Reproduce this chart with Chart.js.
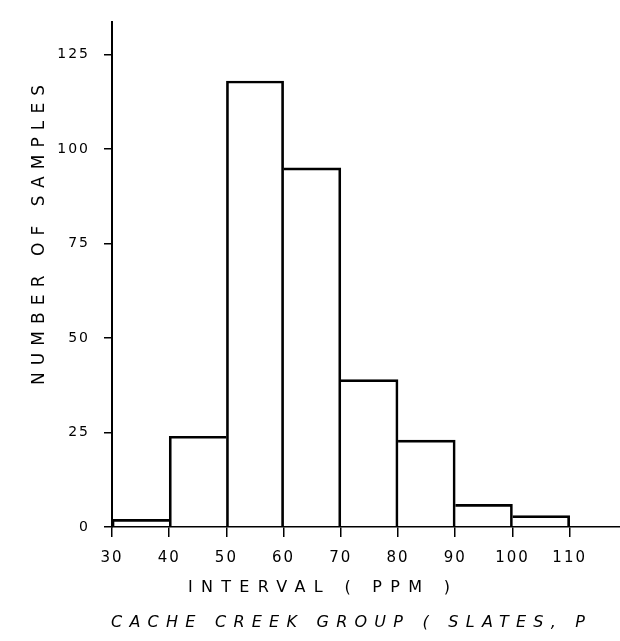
<!DOCTYPE html>
<html>
<head>
<meta charset="utf-8">
<script src="https://cdn.jsdelivr.net/npm/chart.js@4"></script>
<style>
  html, body { margin: 0; padding: 0; background: #fff; }
  #wrap { width: 620px; height: 641px; position: relative; }
</style>
</head>
<body>
<div id="wrap"><canvas id="chart"></canvas></div>
<script>
// interval centres (ppm) and counts
const binCentres = [35, 45, 55, 65, 75, 85, 95, 105];
const sampleCounts = [2, 24, 118, 95, 39, 23, 6, 3];
const xTicks = [30, 40, 50, 60, 70, 80, 90, 100, 110];
const yTicks = [0, 25, 50, 75, 100, 125];

const yTitle = 'NUMBER OF SAMPLES';
const xTitle = 'INTERVAL ( PPM )';
const caption = 'CACHE CREEK GROUP ( SLATES, P';

const FONT = "'DejaVu Sans', 'Liberation Sans', sans-serif";

// spread a string out to a target width, like the old lettering
function spacedText(ctx, text, x, y, width) {
  ctx.letterSpacing = '0px';
  const w = ctx.measureText(text).width;
  const gap = Math.max(0, (width - w) / (text.length - 1));
  ctx.letterSpacing = gap + 'px';
  ctx.textAlign = 'left';
  ctx.textBaseline = 'middle';
  ctx.fillText(text, x, y);
}

// shared edges drawn once, by the taller of the two bars
function edgeWidths(ctx) {
  const i = ctx.dataIndex;
  const n = sampleCounts.length;
  const v = sampleCounts[i];
  return {
    top: 2,
    bottom: 0,
    left: (i === 0 || sampleCounts[i - 1] < v) ? 2 : 0,
    right: (i === n - 1 || sampleCounts[i + 1] <= v) ? 2 : 0
  };
}

const lettering = {
  id: 'lettering',
  beforeUpdate(chart) { chart.ctx.letterSpacing = '2px'; },
  beforeDraw(chart) { chart.ctx.letterSpacing = '2px'; },
  afterDraw(chart) {
    const ctx = chart.ctx;
    ctx.save();
    ctx.fillStyle = '#000';

    ctx.font = '17px ' + FONT;
    ctx.save();
    ctx.translate(40, 385);
    ctx.rotate(-Math.PI / 2);
    spacedText(ctx, yTitle, 0, 0, 300);
    ctx.restore();

    ctx.font = '16px ' + FONT;
    spacedText(ctx, xTitle, 188, 588, 262);

    ctx.font = 'italic 16px ' + FONT;
    spacedText(ctx, caption, 111, 623, 474);
    ctx.restore();
  }
};

new Chart('chart', {
  type: 'bar',
  plugins: [lettering],
  data: {
    datasets: [{
      data: binCentres.map((x, i) => ({ x: x, y: sampleCounts[i] })),
      backgroundColor: 'rgba(255,255,255,0)',
      borderColor: '#000',
      borderWidth: edgeWidths,
      borderSkipped: false,
      barPercentage: 1,
      categoryPercentage: 1
    }]
  },
  options: {
    responsive: true,
    maintainAspectRatio: false,
    animation: false,
    layout: { padding: { top: 10, right: 0, bottom: 0, left: 0 } },
    plugins: { legend: { display: false }, tooltip: { enabled: false } },
    scales: {
      x: {
        type: 'linear',
        offset: false,
        min: 30,
        max: 118.8,
        afterFit: (scale) => { scale.height = 114; },
        afterBuildTicks: (scale) => { scale.ticks = xTicks.map(v => ({ value: v })); },
        grid: { offset: false, drawOnChartArea: false, tickLength: 10, color: '#000', lineWidth: 1.5 },
        border: { display: true, color: '#000', width: 1.5 },
        ticks: {
          autoSkip: false, maxRotation: 0, padding: 12, color: '#000',
          font: { family: FONT, size: 15 }
        }
      },
      y: {
        min: 0,
        max: 133.5,
        afterFit: (scale) => { scale.width = 112; },
        afterBuildTicks: (scale) => { scale.ticks = yTicks.map(v => ({ value: v })); },
        grid: { drawOnChartArea: false, tickLength: 8, color: '#000', lineWidth: 1.5 },
        border: { display: true, color: '#000', width: 2 },
        ticks: {
          padding: 14, color: '#000',
          font: { family: FONT, size: 14 }
        }
      }
    }
  }
});
</script>
</body>
</html>
